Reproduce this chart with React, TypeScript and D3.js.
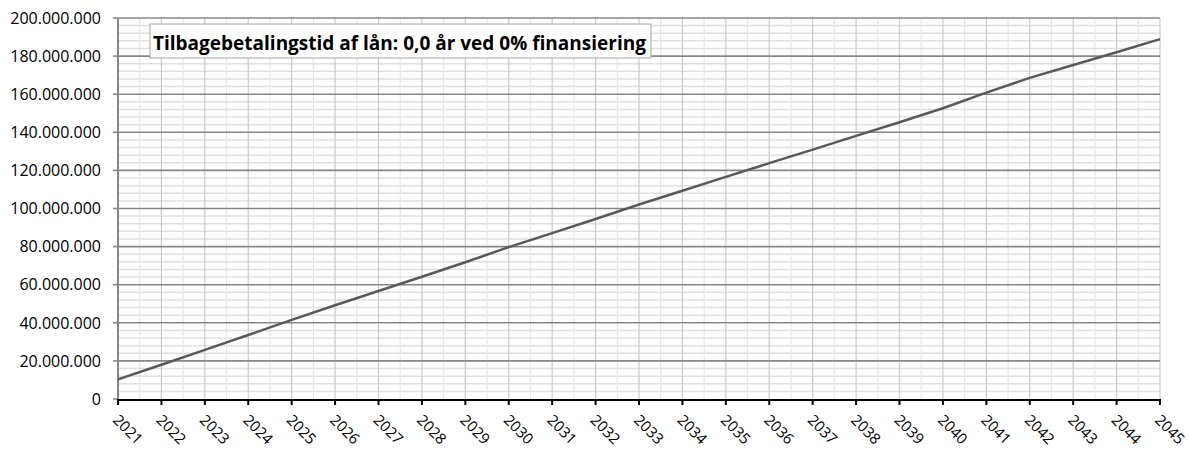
import React from "react";
import * as d3 from "d3";

// years on the category axis
const years = [
  "2021", "2022", "2023", "2024", "2025", "2026", "2027", "2028", "2029", "2030",
  "2031", "2032", "2033", "2034", "2035", "2036", "2037", "2038", "2039", "2040",
  "2041", "2042", "2043", "2044", "2045",
];

// accumulated amount, in millions
const amountMio = [
  10.3, 18.0, 25.8, 33.6, 41.5, 49.2, 56.7, 64.2, 71.8, 79.7,
  87.1, 94.5, 102.1, 109.3, 116.6, 123.8, 130.9, 138.1, 145.3, 152.6,
  160.8, 168.6, 175.3, 182.0, 188.9,
];

const yTicks = [0, 20, 40, 60, 80, 100, 120, 140, 160, 180, 200];
const yMinorTicks = d3.range(0, 201, 4);

const title = "Tilbagebetalingstid af lån: 0,0 år ved 0% finansiering";

const W = 1189;
const H = 450;
const margin = { top: 18, right: 29, bottom: 51, left: 118 };

const da = d3.formatLocale({ decimal: ",", thousands: ".", grouping: [3], currency: ["", ""] });
const fmt = da.format(",.0f");

export default function App() {
  const x = d3.scalePoint().domain(years).range([margin.left, W - margin.right]).padding(0);
  const y = d3.scaleLinear().domain([0, 200]).range([H - margin.bottom, margin.top]);

  const step = x.step();
  const halfSteps = years.slice(0, -1).map((yr) => (x(yr) as number) + step / 2);

  const line = d3
    .line<number>()
    .x((_, i) => x(years[i]) as number)
    .y((d) => y(d));

  const left = margin.left;
  const right = W - margin.right;
  const top = margin.top;
  const bottom = H - margin.bottom;

  return (
    <svg
      width={W}
      height={H}
      style={{ position: "absolute", left: 0, top: 0, background: "#fff" }}
      fontFamily="'Open Sans', sans-serif"
    >
      {/* minor horizontal grid */}
      {yMinorTicks.filter((t) => t % 20 !== 0).map((t) => (
        <line key={"mh" + t} x1={left} x2={right} y1={y(t)} y2={y(t)} stroke="#e0e0e0" strokeWidth={1.5} />
      ))}
      {/* minor vertical grid */}
      {halfSteps.map((px, i) => (
        <line key={"mv" + i} x1={px} x2={px} y1={top} y2={bottom} stroke="#e6e6e6" strokeWidth={1.2} />
      ))}
      {/* major vertical grid */}
      {years.map((yr) => (
        <line key={"v" + yr} x1={x(yr)} x2={x(yr)} y1={top} y2={bottom} stroke="#c9c9c9" strokeWidth={1.2} />
      ))}
      {/* major horizontal grid */}
      {yTicks.filter((t) => t > 0).map((t) => (
        <line key={"h" + t} x1={left} x2={right} y1={y(t)} y2={y(t)} stroke="#878787" strokeWidth={1.6} />
      ))}

      {/* y axis */}
      <line x1={left} x2={left} y1={top} y2={bottom} stroke="#878787" strokeWidth={2} />
      {yTicks.map((t) => (
        <g key={"yt" + t}>
          <line x1={left - 5} x2={left} y1={y(t)} y2={y(t)} stroke="#878787" strokeWidth={1.6} />
          <text x={left - 17} y={y(t)} dy="0.36em" textAnchor="end" fontSize={16} fill="#000">
            {fmt(t * 1000000)}
          </text>
        </g>
      ))}

      {/* x axis */}
      <line x1={left} x2={right} y1={bottom + 1} y2={bottom + 1} stroke="#000" strokeWidth={2} />
      {years.map((yr) => (
        <g key={"xt" + yr}>
          <line x1={x(yr)} x2={x(yr)} y1={bottom} y2={bottom + 6} stroke="#000" strokeWidth={2} />
          <text
            transform={`translate(${(x(yr) as number) - 6},${bottom + 22}) rotate(45)`}
            fontSize={15}
            fill="#000"
          >
            {yr}
          </text>
        </g>
      ))}

      {/* series */}
      <path d={line(amountMio) ?? ""} fill="none" stroke="#595959" strokeWidth={2.5} />

      {/* title box */}
      <rect x={150} y={24} width={501} height={34} fill="#fff" stroke="#a6a6a6" strokeWidth={1} />
      <text x={153} y={50} fontSize={19} fontWeight="bold" fill="#000">
        {title}
      </text>
    </svg>
  );
}
